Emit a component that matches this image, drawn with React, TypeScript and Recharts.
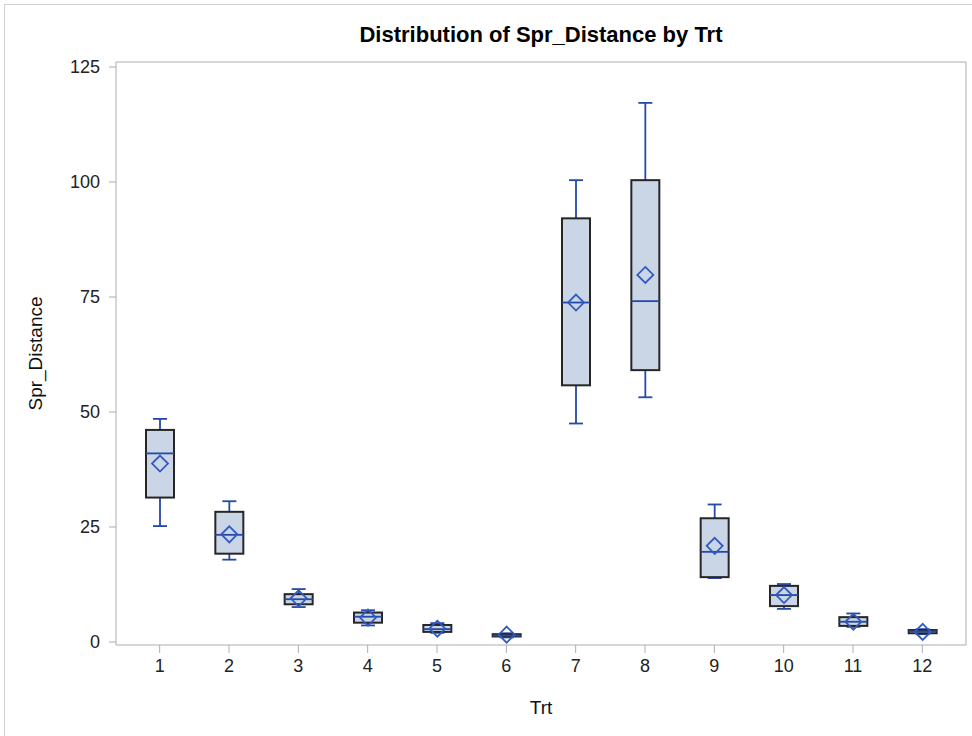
import React from 'react';
import { ComposedChart, Bar, XAxis, YAxis } from 'recharts';

// values (Spr_Distance by Trt)
const trts = ['1', '2', '3', '4', '5', '6', '7', '8', '9', '10', '11', '12'];
const whiskerLow = [25.2, 17.9, 7.6, 3.6, 2.0, 1.0, 47.5, 53.2, 13.9, 7.2, 3.3, 1.7];
const q1 = [31.4, 19.2, 8.2, 4.2, 2.2, 1.2, 55.8, 59.1, 14.1, 7.8, 3.5, 1.9];
const medians = [41.0, 23.3, 9.3, 5.5, 2.8, 1.4, 73.8, 74.1, 19.6, 10.2, 4.4, 2.3];
const q3 = [46.1, 28.3, 10.4, 6.4, 3.7, 1.7, 92.1, 100.4, 26.9, 12.2, 5.4, 2.6];
const whiskerHigh = [48.5, 30.6, 11.5, 6.9, 4.1, 1.9, 100.4, 117.2, 29.9, 12.6, 6.2, 2.8];
const means = [38.8, 23.4, 9.5, 5.3, 2.9, 1.6, 73.8, 79.8, 20.9, 10.2, 4.4, 2.2];
const yTicks = [0, 25, 50, 75, 100, 125];

const data = trts.map((trt, i) => ({
  trt,
  range: [whiskerLow[i], whiskerHigh[i]],
  low: whiskerLow[i],
  q1: q1[i],
  median: medians[i],
  q3: q3[i],
  high: whiskerHigh[i],
  mean: means[i],
}));

const FONT = '"Liberation Sans", Arial, Helvetica, sans-serif';
const FRAME = '#A9AEB3';
const BLUE = '#2449A8';

const BoxShape = (props: any) => {
  const { x, y, width, height, payload } = props;
  const top = Math.min(y, y + height);
  const bottom = Math.max(y, y + height);
  const k = (bottom - top) / (payload.high - payload.low);
  const py = (v: number) => top + (payload.high - v) * k;
  const cx = x + width / 2;
  const cap = 7;
  const yq1 = py(payload.q1);
  const yq3 = py(payload.q3);
  const ym = py(payload.mean);
  const d = 8;
  return (
    <g>
      <line x1={cx} x2={cx} y1={top} y2={yq3} stroke={BLUE} strokeWidth={1.8} />
      <line x1={cx} x2={cx} y1={yq1} y2={bottom} stroke={BLUE} strokeWidth={1.8} />
      <line x1={cx - cap} x2={cx + cap} y1={top} y2={top} stroke={BLUE} strokeWidth={1.8} />
      <line x1={cx - cap} x2={cx + cap} y1={bottom} y2={bottom} stroke={BLUE} strokeWidth={1.8} />
      <rect x={x} y={yq3} width={width} height={Math.max(yq1 - yq3, 0.5)} fill="#CAD5E6" stroke="#262626" strokeWidth={2} />
      <line x1={x} x2={x + width} y1={py(payload.median)} y2={py(payload.median)} stroke={BLUE} strokeWidth={1.8} />
      <path
        d={`M${cx},${ym - d} L${cx + d},${ym} L${cx},${ym + d} L${cx - d},${ym} Z`}
        fill="none"
        stroke="#3259C0"
        strokeWidth={1.8}
      />
    </g>
  );
};

export default function App() {
  return (
    <div style={{ position: 'absolute', left: 0, top: 0, width: 972, height: 736, background: '#fff', fontFamily: FONT }}>
      <div style={{ position: 'absolute', left: 4, top: 4, right: 0, bottom: 0, borderLeft: '1px solid #D0D0D0', borderTop: '1px solid #D0D0D0' }} />
      <div
        style={{
          position: 'absolute',
          left: 116,
          width: 850,
          top: 23,
          textAlign: 'center',
          fontSize: 22,
          lineHeight: '24px',
          fontWeight: 'bold',
          color: '#000',
        }}
      >
        Distribution of Spr_Distance by Trt
      </div>
      <ComposedChart
        width={972}
        height={736}
        data={data}
        margin={{ top: 61, right: 5, bottom: 16, left: 16 }}
        style={{ position: 'absolute', left: 0, top: 0 }}
      >
        <XAxis
          dataKey="trt"
          padding={{ left: 9, right: 9 }}
          height={75}
          stroke={FRAME}
          tickSize={8}
          tickMargin={6}
          tick={{ fill: '#222', fontSize: 18, fontFamily: FONT }}
          label={{ value: 'Trt', position: 'insideBottom', offset: 6, fill: '#111', fontSize: 19, fontFamily: FONT }}
        />
        <XAxis xAxisId="t" dataKey="trt" orientation="top" height={1} tick={false} tickLine={false} stroke={FRAME} />
        <YAxis
          type="number"
          domain={[0, 125]}
          ticks={yTicks}
          width={100}
          padding={{ top: 5, bottom: 3 }}
          stroke={FRAME}
          tickSize={7}
          tickMargin={9}
          tick={{ fill: '#222', fontSize: 18, fontFamily: FONT }}
          label={{ value: 'Spr_Distance', angle: -90, position: 'center', dx: -31, fill: '#111', fontSize: 19, fontFamily: FONT }}
        />
        <YAxis yAxisId="r" orientation="right" width={1} tick={false} tickLine={false} domain={[0, 125]} stroke={FRAME} />
        <Bar dataKey="range" barSize={28} isAnimationActive={false} shape={BoxShape} />
      </ComposedChart>
    </div>
  );
}
